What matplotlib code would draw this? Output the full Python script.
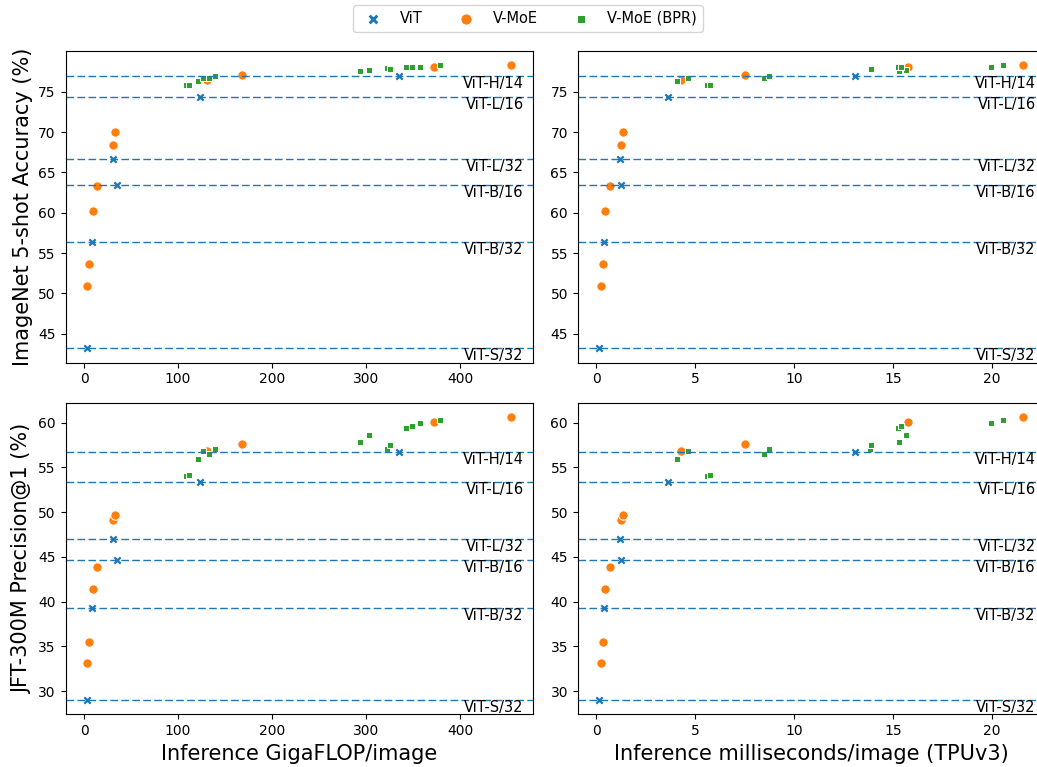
import numpy as np
import matplotlib
matplotlib.use("Agg")
import matplotlib.pyplot as plt

# ViT baselines (dashed reference lines)
vit_names = ["ViT-S/32", "ViT-B/32", "ViT-L/32", "ViT-B/16", "ViT-L/16", "ViT-H/14"]
vit_gflops = [2.8, 8.9, 31.2, 35.5, 123.8, 335.5]
vit_ms = [0.13, 0.37, 1.18, 1.26, 3.61, 13.1]
vit_5shot = [43.2, 56.4, 66.7, 63.5, 74.4, 77.0]
vit_jft = [29.0, 39.3, 47.0, 44.6, 53.4, 56.7]

# V-MoE
moe_gflops = [3.5, 5.0, 9.2, 13.5, 31.2, 33.3, 130.5, 167.7, 372.3, 454.6]
moe_ms = [0.22, 0.35, 0.42, 0.67, 1.25, 1.35, 4.27, 7.54, 15.77, 21.6]
moe_5shot = [50.9, 53.6, 60.2, 63.3, 68.4, 70.0, 76.5, 77.1, 78.1, 78.3]
moe_jft = [33.15, 35.45, 41.4, 43.9, 49.07, 49.66, 56.85, 57.65, 60.1, 60.63]

# V-MoE (BPR)
bpr_gflops = [108.5, 112.0, 121.6, 126.2, 132.6, 139.0, 293.6, 303.5, 322.0, 325.5, 342.2, 349.3, 357.4, 379.0]
bpr_ms = [5.6, 5.77, 4.08, 4.62, 8.5, 8.74, 15.3, 15.68, 13.83, 13.9, 15.26, 15.43, 19.97, 20.57]
bpr_5shot = [75.9, 75.9, 76.3, 76.7, 76.7, 77.0, 77.6, 77.7, 77.9, 77.8, 78.1, 78.1, 78.1, 78.3]
bpr_jft = [54.07, 54.2, 55.97, 56.83, 56.53, 57.0, 57.84, 58.62, 57.0, 57.5, 59.44, 59.66, 60.0, 60.3]

series = ["ViT", "V-MoE", "V-MoE (BPR)"]
colors = ["#1f77b4", "#ff7f0e", "#2ca02c"]
markers = ["X", "o", (4, 0, 45)]

W, H = 1037, 767
fig = plt.figure(figsize=(W / 100, H / 100), dpi=100)

axw = 467 / W
axh = 311.5 / H
lefts = [65.5 / W, 577.7 / W]
bottoms = [1 - 362.5 / H, 1 - 714.3 / H]

xs = [[vit_gflops, moe_gflops, bpr_gflops], [vit_ms, moe_ms, bpr_ms]]
ys = [[vit_5shot, moe_5shot, bpr_5shot], [vit_jft, moe_jft, bpr_jft]]
ylabels = ["ImageNet 5-shot Accuracy (%)", "JFT-300M Precision@1 (%)"]
xlabels = ["Inference GigaFLOP/image", "Inference milliseconds/image (TPUv3)"]

handles = []
for r in range(2):
    for c in range(2):
        ax = fig.add_axes([lefts[c], bottoms[r], axw, axh])
        for k in range(3):
            h = ax.scatter(xs[c][k], ys[r][k], s=46, marker=markers[k], color=colors[k],
                           edgecolor="white", linewidth=0.75, label=series[k])
            if r == 0 and c == 0:
                handles.append(h)
        for name, yv in zip(vit_names, ys[r][0]):
            ax.axhline(yv, color="#1f77b4", linestyle=(0, (5.5, 2.4)), linewidth=1.0)
            ax.text(0.981, yv, name, transform=ax.get_yaxis_transform(),
                    ha="right", va="top", fontsize=10.5, clip_on=True)
        if r == 0:
            ax.set_yticks(np.arange(45, 80, 5))
        if c == 0:
            ax.set_ylabel(ylabels[r], fontsize=15)
        if r == 1:
            ax.set_xlabel(xlabels[c], fontsize=15)

fig.legend(handles, series, loc="upper center", ncol=3, fontsize=10.5, markerscale=1.2,
           bbox_to_anchor=(528 / W, 1.003))

fig.savefig("out.png", dpi=100)
